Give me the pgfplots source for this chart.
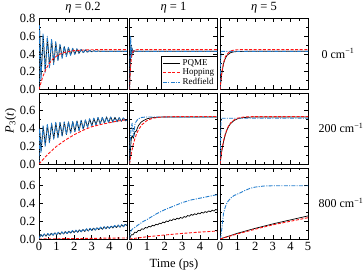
\documentclass[border=0pt]{standalone}
\usepackage{pgfplots}
\pgfplotsset{compat=1.18}
\usepackage{fontspec}
\setmainfont{Liberation Serif}
\definecolor{rfblue}{RGB}{35,125,205}
\definecolor{hopred}{RGB}{255,20,20}
\pgfplotsset{
  panel/.style={
    scale only axis, width=88pt, height=71pt,
    xmin=0, xmax=5, ymin=0, ymax=0.8,
    xtick={0,1,2,3,4,5}, minor x tick num=1,
    ytick={0,0.2,0.4,0.6,0.8}, minor y tick num=1,
    tick align=inside, major tick length=4pt, minor tick length=2.2pt,
    tick style={black, line width=0.6pt},
    axis line style={line width=0.8pt},
    ticklabel style={font=\fontsize{12.5}{13}\selectfont},
    xticklabels={}, yticklabels={},
    /pgf/number format/assume math mode=true,
    anchor=north west,
  },
  pq/.style={black, line width=0.7pt, line join=round},
  hop/.style={color=hopred, line width=0.9pt, dash pattern=on 3pt off 1.6pt},
  rf/.style={color=rfblue, line width=0.9pt, dash pattern=on 4pt off 1.3pt on 1pt off 1.3pt, line join=round},
}
\begin{document}
\begin{tikzpicture}
\useasboundingbox (0pt,0pt) rectangle (364pt,276pt);
% ---------------- Row 1 : 0 cm-1
\begin{axis}[panel, at={(39pt,257.5pt)}, yticklabels={0.0,0.2,0.4,0.6,0.8}]
\addplot[pq] coordinates {(0,0) (0.04,0.66) (0.12,0.16) (0.24,0.60) (0.36,0.22) (0.48,0.58) (0.60,0.26) (0.72,0.55) (0.84,0.30) (0.96,0.52) (1.08,0.33) (1.20,0.50) (1.32,0.36) (1.44,0.48) (1.56,0.38) (1.68,0.47) (1.80,0.39) (1.92,0.46) (2.04,0.40) (2.16,0.455) (2.28,0.41) (2.40,0.45) (2.52,0.415) (2.64,0.445) (2.76,0.42) (2.88,0.44) (3.00,0.425) (3.12,0.437) (3.24,0.428) (3.36,0.434) (3.48,0.43) (5,0.43)};
\addplot[rf] coordinates {(0,0) (0.03,0.72) (0.11,0.10) (0.23,0.63) (0.35,0.19) (0.47,0.60) (0.59,0.24) (0.71,0.57) (0.83,0.28) (0.95,0.54) (1.07,0.32) (1.19,0.51) (1.31,0.35) (1.43,0.49) (1.55,0.37) (1.67,0.475) (1.79,0.385) (1.91,0.465) (2.03,0.395) (2.15,0.46) (2.27,0.405) (2.39,0.452) (2.51,0.412) (2.63,0.447) (2.75,0.418) (2.87,0.442) (2.99,0.423) (3.11,0.438) (3.23,0.427) (3.35,0.434) (3.47,0.43) (5,0.43)};
\addplot[hop] coordinates {(0,0) (0.2,0.137) (0.4,0.233) (0.6,0.299) (0.8,0.345) (1.0,0.377) (1.2,0.399) (1.5,0.421) (2.0,0.438) (2.5,0.445) (3,0.448) (4,0.45) (5,0.45)};
\end{axis}
\begin{axis}[panel, at={(129.5pt,257.5pt)},
  legend style={at={(1,0)}, anchor=south east, font=\fontsize{9}{9}\selectfont, draw=black, line width=0.5pt, inner sep=1.2pt, row sep=-2pt, cells={anchor=west}, legend cell align=left}]
\addlegendimage{pq}
\addlegendentry{PQME}
\addlegendimage{hop}
\addlegendentry{Hopping}
\addlegendimage{rf}
\addlegendentry{Redfield}
\addplot[pq, forget plot] coordinates {(0,0) (0.04,0.25) (0.08,0.50) (0.11,0.38) (0.15,0.46) (0.20,0.41) (0.25,0.44) (0.30,0.43) (0.5,0.43) (5,0.43)};
\addplot[rf, forget plot] coordinates {(0,0) (0.03,0.30) (0.07,0.60) (0.10,0.35) (0.14,0.47) (0.18,0.41) (0.22,0.44) (0.30,0.43) (5,0.43)};
\addplot[hop, forget plot] coordinates {(0,0) (0.05,0.23) (0.1,0.34) (0.15,0.40) (0.2,0.43) (0.3,0.444) (0.5,0.45) (5,0.45)};
\end{axis}
\begin{axis}[panel, at={(220pt,257.5pt)}]
\addplot[pq] coordinates {(0,0) (0.1,0.18) (0.2,0.29) (0.3,0.35) (0.4,0.385) (0.6,0.415) (0.8,0.425) (1.0,0.428) (1.5,0.43) (5,0.43)};
\addplot[rf] coordinates {(0,0) (0.02,0.20) (0.05,0.40) (0.08,0.43) (5,0.43)};
\addplot[hop] coordinates {(0,0) (0.1,0.19) (0.2,0.30) (0.3,0.365) (0.4,0.40) (0.6,0.434) (0.8,0.445) (1.0,0.448) (1.5,0.45) (5,0.45)};
\end{axis}
% ---------------- Row 2 : 200 cm-1
\begin{axis}[panel, at={(39pt,183pt)}, yticklabels={0.0,0.2,0.4,0.6,{}}]
\addplot[pq] coordinates {(0,0) (0.05,0.35) (0.12,0.15) (0.24,0.42) (0.36,0.21) (0.48,0.44) (0.60,0.25) (0.72,0.45) (0.84,0.285) (0.96,0.46) (1.08,0.30) (1.20,0.465) (1.32,0.318) (1.44,0.47) (1.56,0.333) (1.68,0.474) (1.80,0.35) (1.92,0.476) (2.04,0.366) (2.16,0.483) (2.28,0.378) (2.40,0.49) (2.52,0.392) (2.64,0.496) (2.76,0.416) (2.88,0.507) (3.00,0.43) (3.12,0.514) (3.24,0.442) (3.36,0.522) (3.48,0.454) (3.60,0.525) (3.72,0.462) (3.84,0.529) (3.96,0.47) (4.08,0.528) (4.20,0.473) (4.32,0.525) (4.44,0.477) (4.56,0.521) (4.68,0.481) (4.80,0.517) (4.92,0.485) (5.0,0.495)};
\addplot[rf] coordinates {(0,0) (0.04,0.40) (0.11,0.13) (0.23,0.43) (0.35,0.20) (0.47,0.45) (0.59,0.24) (0.71,0.46) (0.83,0.28) (0.95,0.47) (1.07,0.295) (1.19,0.47) (1.31,0.315) (1.43,0.475) (1.55,0.33) (1.67,0.478) (1.79,0.347) (1.91,0.48) (2.03,0.363) (2.15,0.487) (2.27,0.375) (2.39,0.493) (2.51,0.39) (2.63,0.50) (2.75,0.413) (2.87,0.51) (2.99,0.428) (3.11,0.517) (3.23,0.44) (3.35,0.524) (3.47,0.452) (3.59,0.527) (3.71,0.46) (3.83,0.531) (3.95,0.468) (4.07,0.53) (4.19,0.471) (4.31,0.527) (4.43,0.476) (4.55,0.523) (4.67,0.48) (4.79,0.519) (4.91,0.484) (5.0,0.497)};
\addplot[hop] coordinates {(0,0) (0.5,0.11) (1,0.20) (1.5,0.27) (2,0.33) (2.5,0.38) (3,0.42) (3.5,0.445) (4,0.465) (4.5,0.485) (5,0.50)};
\end{axis}
\begin{axis}[panel, at={(129.5pt,183pt)}]
\addplot[pq] coordinates {(0,0) (0.05,0.15) (0.1,0.28) (0.15,0.32) (0.22,0.29) (0.3,0.36) (0.38,0.37) (0.5,0.43) (0.65,0.47) (0.8,0.49) (1.0,0.51) (1.3,0.522) (1.7,0.528) (2.2,0.53) (5,0.53)};
\addplot[rf] coordinates {(0,0) (0.04,0.25) (0.08,0.38) (0.15,0.46) (0.23,0.31) (0.32,0.46) (0.42,0.49) (0.51,0.51) (0.7,0.525) (1.0,0.53) (5,0.53)};
\addplot[hop] coordinates {(0,0) (0.1,0.118) (0.2,0.21) (0.3,0.282) (0.4,0.338) (0.5,0.382) (0.7,0.442) (1.0,0.491) (1.3,0.514) (1.6,0.525) (2.0,0.531) (3,0.535) (5,0.535)};
\end{axis}
\begin{axis}[panel, at={(220pt,183pt)}]
\addplot[pq] coordinates {(0,0) (0.1,0.145) (0.2,0.25) (0.3,0.328) (0.4,0.385) (0.5,0.425) (0.6,0.455) (0.8,0.49) (1.0,0.51) (1.3,0.522) (1.6,0.527) (2,0.53) (5,0.53)};
\addplot[rf] coordinates {(0,0) (0.03,0.25) (0.06,0.48) (0.1,0.515) (5,0.515)};
\addplot[hop] coordinates {(0,0) (0.1,0.152) (0.2,0.26) (0.3,0.338) (0.4,0.394) (0.5,0.433) (0.6,0.462) (0.8,0.497) (1.0,0.516) (1.3,0.528) (1.6,0.532) (2,0.534) (5,0.535)};
\end{axis}
% ---------------- Row 3 : 800 cm-1
\begin{axis}[panel, at={(39pt,108pt)}, yticklabels={0.0,0.2,0.4,0.6,{}}, xticklabels={0,1,2,3,4,{}}]
\addplot[pq] coordinates {(0,0) (0.1,0.05) (0.2,0.028) (0.3,0.054) (0.4,0.033) (0.5,0.059) (0.6,0.037) (0.7,0.064) (0.8,0.042) (0.9,0.069) (1.0,0.047) (1.1,0.073) (1.2,0.052) (1.3,0.078) (1.4,0.057) (1.5,0.083) (1.6,0.061) (1.7,0.088) (1.8,0.066) (1.9,0.093) (2.0,0.071) (2.1,0.097) (2.2,0.076) (2.3,0.102) (2.4,0.081) (2.5,0.107) (2.6,0.085) (2.7,0.112) (2.8,0.090) (2.9,0.117) (3.0,0.095) (3.1,0.121) (3.2,0.100) (3.3,0.126) (3.4,0.105) (3.5,0.131) (3.6,0.109) (3.7,0.136) (3.8,0.114) (3.9,0.141) (4.0,0.119) (4.1,0.145) (4.2,0.124) (4.3,0.150) (4.4,0.129) (4.5,0.155) (4.6,0.133) (4.7,0.160) (4.8,0.138) (4.9,0.165) (5.0,0.150)};
\addplot[rf] coordinates {(0,0) (0.1,0.053) (0.2,0.03) (0.3,0.057) (0.4,0.035) (0.5,0.062) (0.6,0.039) (0.7,0.067) (0.8,0.044) (0.9,0.072) (1.0,0.049) (1.1,0.076) (1.2,0.054) (1.3,0.081) (1.4,0.059) (1.5,0.086) (1.6,0.063) (1.7,0.091) (1.8,0.068) (1.9,0.096) (2.0,0.073) (2.1,0.100) (2.2,0.078) (2.3,0.105) (2.4,0.083) (2.5,0.110) (2.6,0.087) (2.7,0.115) (2.8,0.092) (2.9,0.120) (3.0,0.097) (3.1,0.124) (3.2,0.102) (3.3,0.129) (3.4,0.107) (3.5,0.134) (3.6,0.111) (3.7,0.139) (3.8,0.116) (3.9,0.144) (4.0,0.121) (4.1,0.148) (4.2,0.126) (4.3,0.153) (4.4,0.131) (4.5,0.158) (4.6,0.135) (4.7,0.163) (4.8,0.140) (4.9,0.168) (5.0,0.153)};
\addplot[hop] coordinates {(0,0) (1,0.003) (2,0.005) (3,0.007) (4,0.01) (5,0.012)};
\end{axis}
\begin{axis}[panel, at={(129.5pt,108pt)}, xticklabels={0,1,2,3,4,{}}]
\addplot[pq] coordinates {(0,0) (0.1,0.047) (0.2,0.048) (0.3,0.077) (0.4,0.073) (0.5,0.097) (0.6,0.093) (0.7,0.115) (0.8,0.108) (0.9,0.13) (1.0,0.123) (1.1,0.143) (1.2,0.135) (1.3,0.155) (1.4,0.147) (1.5,0.167) (1.6,0.159) (1.7,0.179) (1.8,0.171) (1.9,0.191) (2.0,0.183) (2.1,0.203) (2.2,0.195) (2.3,0.215) (2.4,0.207) (2.5,0.227) (2.6,0.217) (2.7,0.235) (2.8,0.225) (2.9,0.243) (3.0,0.233) (3.1,0.253) (3.2,0.245) (3.3,0.265) (3.4,0.257) (3.5,0.277) (3.6,0.267) (3.7,0.285) (3.8,0.275) (3.9,0.293) (4.0,0.283) (4.1,0.301) (4.2,0.291) (4.3,0.309) (4.4,0.299) (4.5,0.317) (4.6,0.307) (4.7,0.325) (4.8,0.315) (4.9,0.333) (5.0,0.325)};
\addplot[rf] coordinates {(0,0) (0.05,0.08) (0.15,0.11) (0.3,0.13) (0.5,0.16) (0.8,0.20) (1.0,0.22) (1.5,0.28) (2.0,0.33) (2.5,0.37) (3.0,0.41) (3.5,0.44) (4.0,0.46) (4.5,0.48) (5.0,0.50)};
\addplot[hop] coordinates {(0,0) (0.5,0.013) (1,0.025) (2,0.045) (3,0.063) (4,0.078) (5,0.09)};
\end{axis}
\begin{axis}[panel, at={(220pt,108pt)}, xticklabels={0,1,2,3,4,5}]
\addplot[pq] coordinates {(0,0) (1,0.065) (2,0.12) (3,0.17) (4,0.215) (5,0.26)};
\addplot[rf] coordinates {(0,0) (0.05,0.03) (0.1,0.11) (0.2,0.29) (0.3,0.36) (0.4,0.41) (0.6,0.46) (0.8,0.49) (1.1,0.515) (1.4,0.545) (1.7,0.57) (2.0,0.585) (2.5,0.597) (3.0,0.60) (5,0.60)};
\addplot[hop] coordinates {(0,0) (1,0.058) (2,0.11) (3,0.16) (4,0.20) (5,0.24)};
\end{axis}
% ---------------- labels
\node[font=\fontsize{12.5}{13}\selectfont] at (83pt,268.5pt) {\textit{η} = 0.2};
\node[font=\fontsize{12.5}{13}\selectfont] at (173.5pt,268.5pt) {\textit{η} = 1};
\node[font=\fontsize{12.5}{13}\selectfont] at (264pt,268.5pt) {\textit{η} = 5};
\node[font=\fontsize{12}{13}\selectfont] at (338pt,222.5pt) {0 cm\textsuperscript{−1}};
\node[font=\fontsize{12}{13}\selectfont] at (341pt,148pt) {200 cm\textsuperscript{−1}};
\node[font=\fontsize{12}{13}\selectfont] at (341pt,73pt) {800 cm\textsuperscript{−1}};
\node[font=\fontsize{12.5}{13}\selectfont, rotate=90] at (10.5pt,155pt) {\textit{P}\textsubscript{3}(\textit{t})};
\node[font=\fontsize{12.5}{13}\selectfont] at (174pt,12pt) {Time (ps)};
\end{tikzpicture}
\end{document}
